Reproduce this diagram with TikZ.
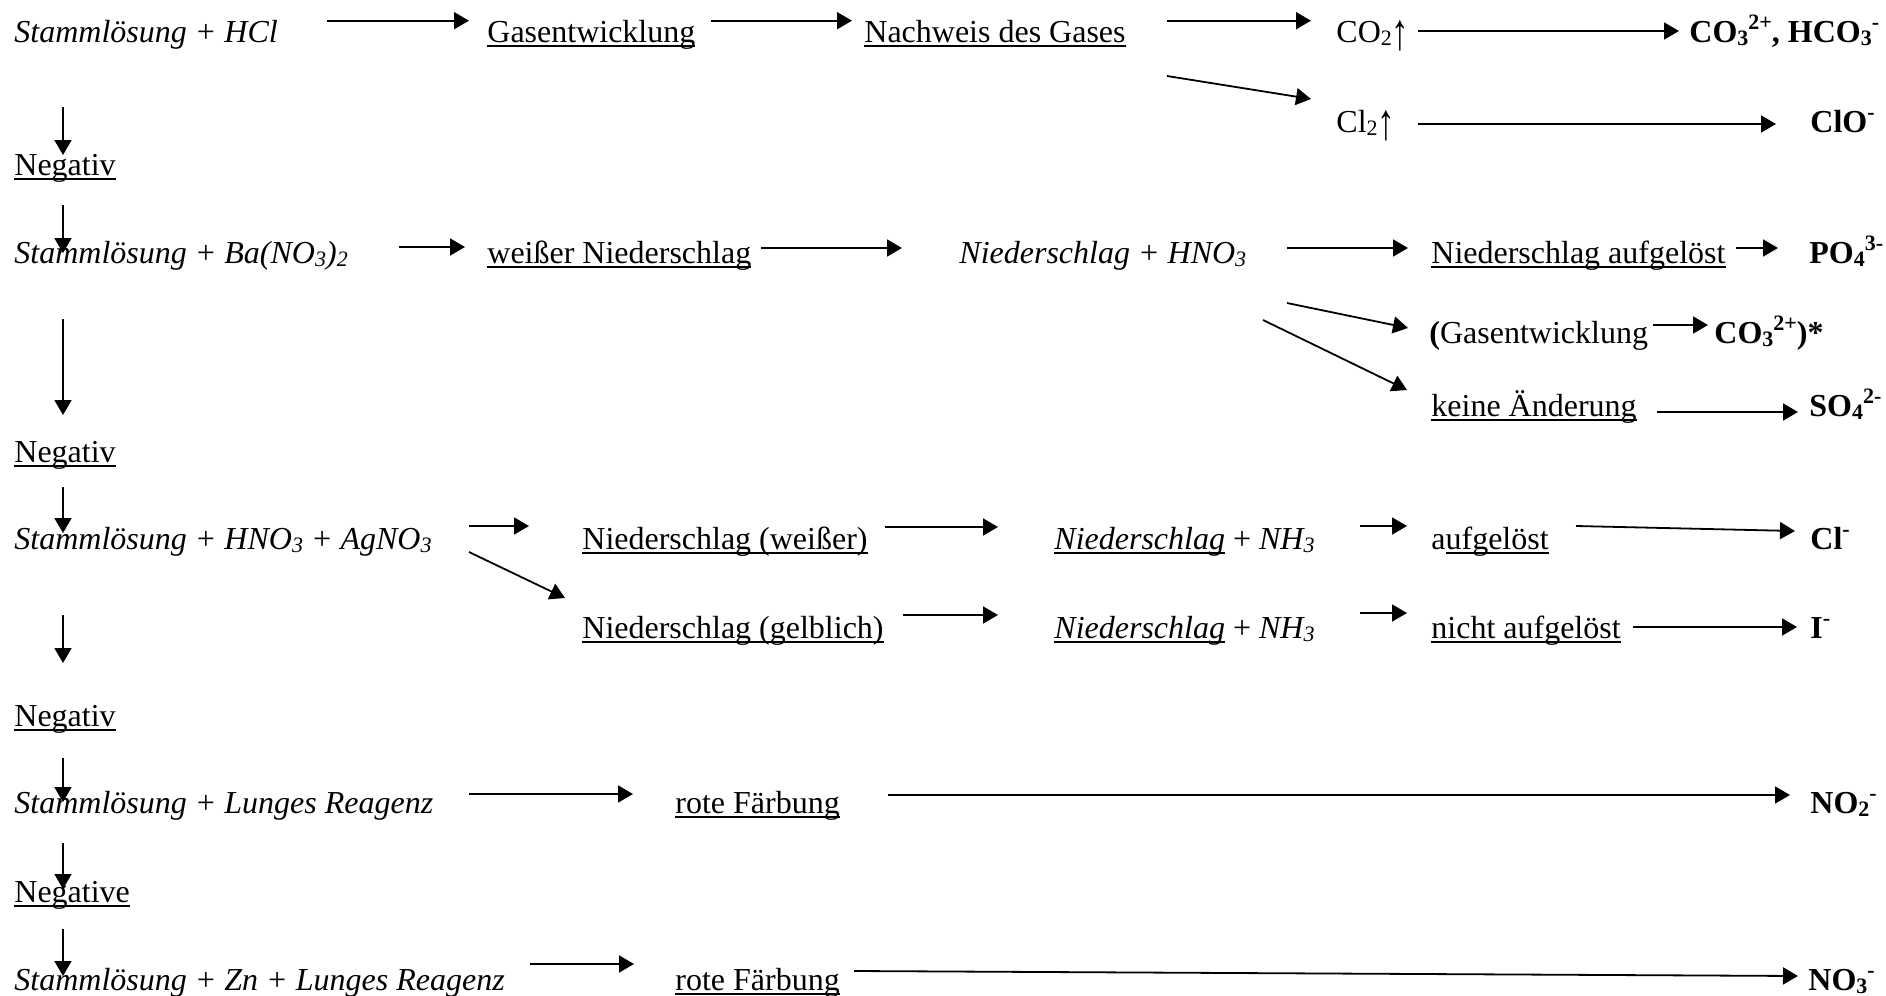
\documentclass[tikz,border=0pt]{standalone}
\usepackage{fontspec}
\usepackage{graphicx}
\setmainfont{Liberation Serif}
\usetikzlibrary{arrows.meta}
\newcommand\myul[1]{\setbox0\hbox{#1}\rlap{\rule[-2.3pt]{\wd0}{0.9pt}}\box0\relax}
\newcommand\chsub[1]{\raisebox{-0.12em}{\fontsize{11pt}{12pt}\selectfont #1}}
\newcommand\chsup[1]{\raisebox{0.38em}{\fontsize{11pt}{12pt}\selectfont #1}}
\newcommand\gasup{\raisebox{-0.24em}{\scalebox{1.1}[1.6]{↑}}}
\tikzset{
  txt/.style={inner sep=0pt, anchor=base west, font=\fontsize{16pt}{19pt}\selectfont},
  res/.style={txt, font=\fontsize{16pt}{19pt}\selectfont\bfseries},
  arr/.style={-{Triangle[length=7.5pt,width=8.5pt]}, line width=0.9pt}
}
\begin{document}
\begin{tikzpicture}[x=0.5pt, y=-0.5pt]
\fill[white] (0,0) rectangle (1886,996);
\useasboundingbox (0,0) rectangle (1886,996);

% ---------- texts ----------
\node[txt] (r1a) at (14,42) {\textit{Stammlösung + HCl}};
\node[txt] (r1b) at (487,42) {\myul{Gasentwicklung}};
\node[txt] (r1c) at (864,42) {\myul{Nachweis des Gases}};
\node[txt] (r1d) at (1336,42) {CO\chsub{2}\gasup};
\node[res] (r1e) at (1689,42) {CO\chsub{3}\chsup{2+}, HCO\chsub{3}\chsup{-}};
\node[txt] (r1f) at (1336,132) {Cl\chsub{2}\gasup};
\node[res] (r1g) at (1810,132) {ClO\chsup{-}};
\node[txt] (n1) at (14,175) {\myul{Negativ}};

\node[txt] (r2a) at (14,263) {\textit{Stammlösung + Ba(NO\chsub{3})\chsub{2}}};
\node[txt] (r2b) at (487,263) {\myul{weißer Niederschlag}};
\node[txt] (r2c) at (959,263) {\textit{Niederschlag + HNO\chsub{3}}};
\node[txt] (r2d) at (1431,263) {\myul{Niederschlag aufgelöst}};
\node[res] (r2e) at (1809,263) {PO\chsub{4}\chsup{3-}};
\node[txt] (r2f) at (1429,343) {\textbf{(}Gasentwicklung};
\node[res] (r2g) at (1714,343) {CO\chsub{3}\chsup{2+})*};
\node[txt] (r2h) at (1431,416) {\myul{keine Änderung}};
\node[res] (r2i) at (1809,416) {SO\chsub{4}\chsup{2-}};
\node[txt] (n2) at (14,462) {\myul{Negativ}};

\node[txt] (r3a) at (14,549) {\textit{Stammlösung + HNO\chsub{3} + AgNO\chsub{3}}};
\node[txt] (r3b) at (582,549) {\myul{Niederschlag (weißer)}};
\node[txt] (r3c) at (1054,549) {\myul{\textit{Niederschlag}} + \textit{NH\chsub{3}}};
\node[txt] (r3d) at (1431,549) {a\myul{ufgelöst}};
\node[res] (r3e) at (1810,549) {Cl\chsup{-}};
\node[txt] (r3f) at (582,638) {\myul{Niederschlag (gelblich)}};
\node[txt] (r3g) at (1054,638) {\myul{\textit{Niederschlag}} + \textit{NH\chsub{3}}};
\node[txt] (r3h) at (1431,638) {\myul{nicht aufgelöst}};
\node[res] (r3i) at (1810,638) {I\chsup{-}};
\node[txt] (n3) at (14,726) {\myul{Negativ}};

\node[txt] (r4a) at (14,813) {\textit{Stammlösung + Lunges Reagenz}};
\node[txt] (r4b) at (675,813) {\myul{rote Färbung}};
\node[res] (r4c) at (1810,813) {NO\chsub{2}\chsup{-}};
\node[txt] (n4) at (14,902) {\myul{Negative}};

\node[txt] (r5a) at (14,990) {\textit{Stammlösung + Zn + Lunges Reagenz}};
\node[txt] (r5b) at (675,990) {\myul{rote Färbung}};
\node[res] (r5c) at (1808,990) {NO\chsub{3}\chsup{-}};

% ---------- arrow end points ----------
\coordinate (a1s) at (327,20.7);  \coordinate (a1e) at (469,20.7);
\coordinate (a2s) at (711,20.7);  \coordinate (a2e) at (852,20.7);
\coordinate (a3s) at (1167,20.7); \coordinate (a3e) at (1311,20.7);
\coordinate (a4s) at (1418,31);   \coordinate (a4e) at (1679,31);
\coordinate (a5s) at (1167,76);   \coordinate (a5e) at (1311,99);
\coordinate (a6s) at (1418,124);  \coordinate (a6e) at (1776,124);

\coordinate (b1s) at (399,247);   \coordinate (b1e) at (465,247);
\coordinate (b2s) at (761,248);   \coordinate (b2e) at (902,248);
\coordinate (b3s) at (1287,248);  \coordinate (b3e) at (1408,248);
\coordinate (b4s) at (1736,248);  \coordinate (b4e) at (1778,248);
\coordinate (b5s) at (1287,303);  \coordinate (b5e) at (1408,328);
\coordinate (b6s) at (1653,325);  \coordinate (b6e) at (1708,325);
\coordinate (b7s) at (1263,320);  \coordinate (b7e) at (1407,390);
\coordinate (b8s) at (1657,412);  \coordinate (b8e) at (1798,412);

\coordinate (c1s) at (469,526);   \coordinate (c1e) at (529,526);
\coordinate (c2s) at (469,552);   \coordinate (c2e) at (565,598);
\coordinate (c3s) at (885,527);   \coordinate (c3e) at (998,527);
\coordinate (c4s) at (1360,526);  \coordinate (c4e) at (1407,526);
\coordinate (c5s) at (1576,526);  \coordinate (c5e) at (1795,531);
\coordinate (c6s) at (903,615);   \coordinate (c6e) at (998,615);
\coordinate (c7s) at (1360,613);  \coordinate (c7e) at (1407,613);
\coordinate (c8s) at (1633,627);  \coordinate (c8e) at (1797,627);

\coordinate (d1s) at (469,794);   \coordinate (d1e) at (633,794);
\coordinate (d2s) at (888,795);   \coordinate (d2e) at (1790,795);
\coordinate (e1s) at (530,964);   \coordinate (e1e) at (634,964);
\coordinate (e2s) at (854,971);   \coordinate (e2e) at (1798,976);

\coordinate (v1s) at (63,107);  \coordinate (v1e) at (63,155);
\coordinate (v2s) at (63,205);  \coordinate (v2e) at (63,253);
\coordinate (v3s) at (63,319);  \coordinate (v3e) at (63,415);
\coordinate (v4s) at (63,487);  \coordinate (v4e) at (63,533);
\coordinate (v5s) at (63,615);  \coordinate (v5e) at (63,663);
\coordinate (v6s) at (63,758);  \coordinate (v6e) at (63,802);
\coordinate (v7s) at (63,843);  \coordinate (v7e) at (63,889);
\coordinate (v8s) at (63,929);  \coordinate (v8e) at (63,976);

% ---------- arrows ----------
\foreach \p in {a1,a2,a3,a4,a5,a6,b1,b2,b3,b4,b5,b6,b7,b8,c1,c2,c3,c4,c5,c6,c7,c8,d1,d2,e1,e2,v1,v2,v3,v4,v5,v6,v7,v8}
  \draw[arr] (\p s) -- (\p e);
\end{tikzpicture}
\end{document}
